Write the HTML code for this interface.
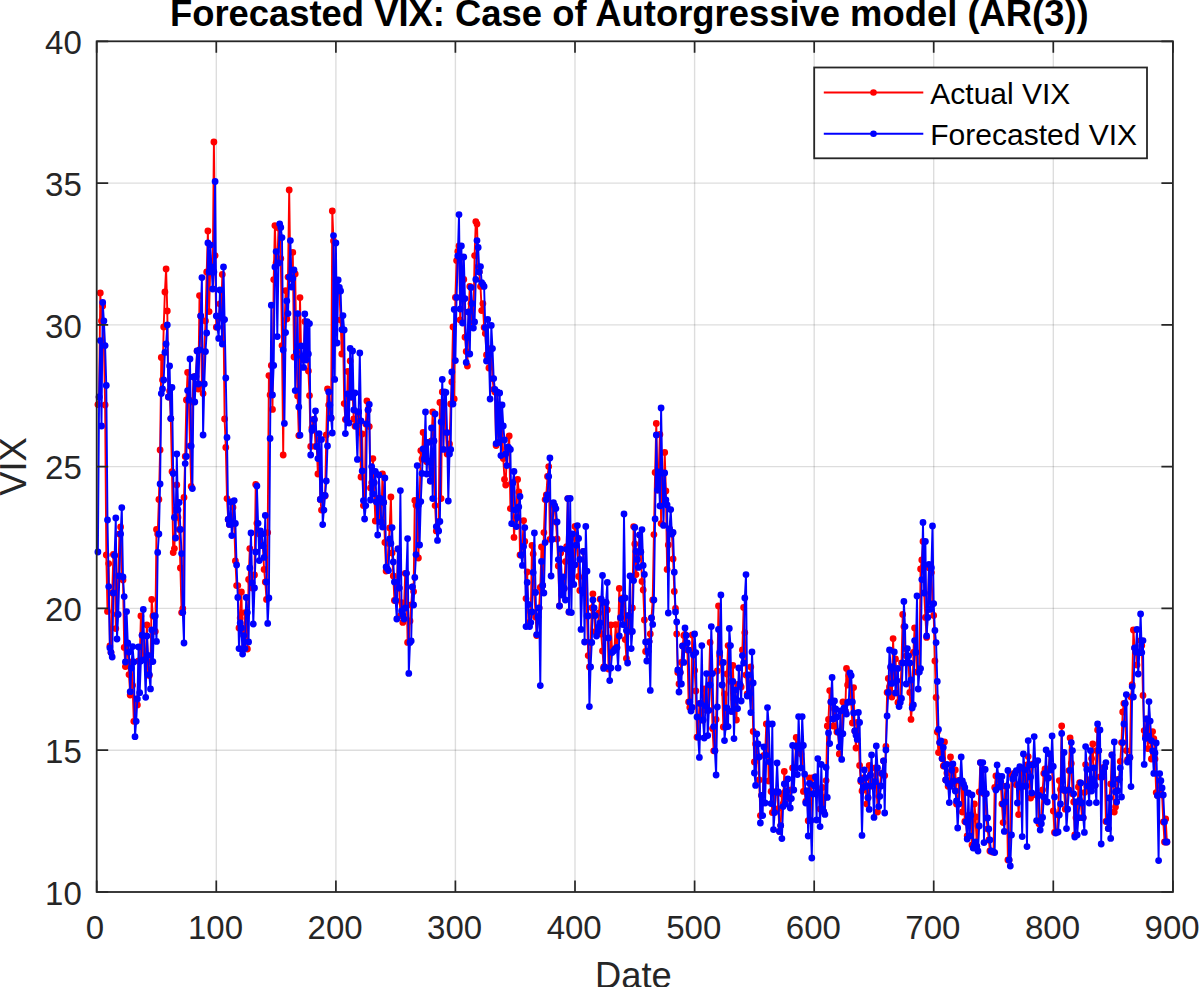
<!DOCTYPE html>
<html><head><meta charset="utf-8"><title>Forecasted VIX</title>
<style>
html,body{margin:0;padding:0;background:#fff;}
svg{display:block;}
text{font-family:"Liberation Sans",sans-serif;}
.tk{font-size:33px;fill:#262626;}
.lg{font-size:30px;fill:#000;}
</style></head>
<body>
<svg width="1200" height="987" viewBox="0 0 1200 987">
<rect x="0" y="0" width="1200" height="987" fill="#fff"/>
<path d="M216.3 41.3V892.0M335.9 41.3V892.0M455.4 41.3V892.0M575.0 41.3V892.0M694.6 41.3V892.0M814.2 41.3V892.0M933.7 41.3V892.0M1053.3 41.3V892.0" stroke="#000" stroke-opacity="0.135" stroke-width="1.4" fill="none"/>
<path d="M96.7 750.2H1172.9M96.7 608.4H1172.9M96.7 466.6H1172.9M96.7 324.9H1172.9M96.7 183.1H1172.9" stroke="#000" stroke-opacity="0.135" stroke-width="1.4" fill="none"/>
<g fill="none" stroke-linejoin="round">
<polyline points="97.9,404.6 99.1,397.0 100.3,293.0 101.5,321.0 102.7,306.0 103.9,345.6 105.1,405.0 106.3,555.0 107.5,611.4 108.7,563.6 109.9,646.0 111.0,652.5 112.2,593.0 113.4,554.4 114.6,555.5 115.8,628.6 117.0,614.4 118.2,576.0 119.4,534.0 120.6,527.0 121.8,577.0 123.0,580.0 124.2,647.4 125.4,666.6 126.6,643.0 127.8,652.0 129.0,674.6 130.2,695.0 131.4,662.0 132.6,685.3 133.8,721.3 135.0,721.3 136.2,699.0 137.4,704.9 138.6,661.0 139.7,661.0 140.9,616.0 142.1,635.2 143.3,659.6 144.5,659.6 145.7,655.3 146.9,625.0 148.1,674.6 149.3,675.6 150.5,661.6 151.7,599.4 152.9,616.0 154.1,616.0 155.3,631.4 156.5,529.4 157.7,534.0 158.9,499.4 160.1,450.0 161.3,357.4 162.5,380.0 163.7,327.0 164.9,292.0 166.1,269.0 167.3,311.0 168.4,397.0 169.6,391.0 170.8,418.6 172.0,471.6 173.2,552.6 174.4,548.6 175.6,510.0 176.8,485.0 178.0,517.4 179.2,529.4 180.4,568.0 181.6,612.6 182.8,608.6 184.0,497.4 185.2,456.4 186.4,400.0 187.6,372.4 188.8,400.0 190.0,446.0 191.2,486.4 192.4,402.0 193.6,377.0 194.8,376.5 195.9,376.5 197.1,351.0 198.3,389.0 199.5,295.6 200.7,316.0 201.9,384.0 203.1,393.6 204.3,351.6 205.5,321.0 206.7,272.0 207.9,231.0 209.1,311.6 210.3,267.0 211.5,272.0 212.7,272.0 213.9,142.0 215.1,255.6 216.3,327.2 217.5,327.2 218.7,318.0 219.9,304.0 221.1,317.0 222.3,274.4 223.5,319.6 224.6,419.0 225.8,447.4 227.0,498.6 228.2,519.4 229.4,524.4 230.6,523.4 231.8,523.4 233.0,507.4 234.2,523.4 235.4,561.0 236.6,585.6 237.8,585.6 239.0,628.0 240.2,618.0 241.4,592.0 242.6,648.6 243.8,635.6 245.0,612.6 246.2,612.6 247.4,649.0 248.6,579.4 249.8,548.6 251.0,583.0 252.2,588.0 253.3,588.0 254.5,575.0 255.7,484.4 256.9,523.3 258.1,531.0 259.3,534.0 260.5,534.0 261.7,545.7 262.9,545.7 264.1,569.4 265.3,582.0 266.5,599.4 267.7,532.6 268.9,375.6 270.1,395.0 271.3,365.4 272.5,409.4 273.7,279.6 274.9,225.6 276.1,263.0 277.3,263.0 278.5,228.0 279.7,227.4 280.8,258.6 282.0,345.6 283.2,455.0 284.4,332.6 285.6,290.6 286.8,319.0 288.0,277.1 289.2,190.0 290.4,278.5 291.6,278.5 292.8,252.4 294.0,357.0 295.2,274.0 296.4,352.1 297.6,396.0 298.8,435.6 300.0,297.6 301.2,356.7 302.4,356.7 303.6,360.0 304.8,321.6 306.0,354.0 307.2,323.6 308.4,371.0 309.5,395.6 310.7,446.4 311.9,428.0 313.1,419.5 314.3,419.5 315.5,446.4 316.7,446.4 317.9,474.0 319.1,439.4 320.3,499.4 321.5,510.1 322.7,510.1 323.9,495.5 325.1,496.0 326.3,435.0 327.5,389.0 328.7,405.0 329.9,418.0 331.1,418.0 332.3,211.0 333.5,241.0 334.7,343.0 335.9,280.0 337.1,287.4 338.2,287.4 339.4,291.0 340.6,320.0 341.8,354.0 343.0,330.0 344.2,403.6 345.4,419.4 346.6,419.4 347.8,371.4 349.0,397.0 350.2,361.0 351.4,397.0 352.6,393.0 353.8,419.0 355.0,426.2 356.2,426.2 357.4,412.0 358.6,412.0 359.8,421.0 361.0,477.0 362.2,434.0 363.4,505.6 364.6,505.6 365.8,424.0 366.9,401.0 368.1,410.0 369.3,426.6 370.5,488.0 371.7,482.7 372.9,458.6 374.1,482.7 375.3,521.0 376.5,502.0 377.7,498.5 378.9,498.5 380.1,522.0 381.3,522.0 382.5,474.0 383.7,502.5 384.9,542.4 386.1,571.0 387.3,568.8 388.5,543.4 389.7,528.0 390.9,497.0 392.1,553.0 393.3,576.0 394.4,600.5 395.6,600.5 396.8,588.0 398.0,549.0 399.2,588.0 400.4,615.6 401.6,602.6 402.8,622.4 404.0,608.0 405.2,573.3 406.4,573.3 407.6,642.4 408.8,642.4 410.0,621.0 411.2,605.0 412.4,587.0 413.6,591.6 414.8,500.4 416.0,505.3 417.2,505.3 418.4,558.0 419.6,501.6 420.8,450.6 422.0,459.0 423.1,432.4 424.3,459.0 425.5,442.4 426.7,461.7 427.9,461.7 429.1,461.7 430.3,481.0 431.5,441.0 432.7,412.0 433.9,441.0 435.1,505.6 436.3,530.9 437.5,529.4 438.7,521.4 439.9,402.4 441.1,498.6 442.3,392.0 443.5,392.4 444.7,392.4 445.9,432.6 447.1,454.0 448.3,454.0 449.5,444.0 450.7,404.0 451.8,382.0 453.0,327.0 454.2,399.0 455.4,297.4 456.6,260.6 457.8,251.4 459.0,246.0 460.2,320.0 461.4,257.0 462.6,298.6 463.8,279.4 465.0,337.2 466.2,351.4 467.4,366.0 468.6,312.0 469.8,286.4 471.0,303.6 472.2,322.0 473.4,322.0 474.6,255.6 475.8,221.6 477.0,224.0 478.2,266.6 479.3,272.0 480.5,286.4 481.7,310.6 482.9,303.6 484.1,327.4 485.3,333.4 486.5,355.0 487.7,355.0 488.9,368.0 490.1,348.6 491.3,348.6 492.5,378.6 493.7,389.4 494.9,392.0 496.1,445.6 497.3,393.0 498.5,442.4 499.7,405.0 500.9,426.0 502.1,426.0 503.3,458.6 504.5,479.4 505.7,485.0 506.9,448.2 508.0,448.2 509.2,436.0 510.4,508.6 511.6,483.0 512.8,483.0 514.0,537.4 515.2,517.4 516.4,517.4 517.6,479.4 518.8,492.0 520.0,555.0 521.2,555.0 522.4,546.5 523.6,520.6 524.8,541.4 526.0,598.6 527.2,572.0 528.4,622.6 529.6,622.6 530.8,612.0 532.0,545.4 533.2,554.0 534.4,592.4 535.6,617.0 536.7,635.6 537.9,617.0 539.1,608.0 540.3,587.4 541.5,547.0 542.7,585.4 543.9,532.6 545.1,499.6 546.3,495.0 547.5,476.5 548.7,466.6 549.9,539.3 551.1,539.3 552.3,505.6 553.5,505.6 554.7,508.6 555.9,522.0 557.1,539.0 558.3,566.0 559.5,606.0 560.7,553.0 561.9,588.5 563.1,588.5 564.2,588.5 565.4,561.6 566.6,546.6 567.8,498.6 569.0,612.0 570.2,534.0 571.4,584.4 572.6,564.8 573.8,564.8 575.0,526.4 576.2,538.4 577.4,538.4 578.6,576.4 579.8,590.4 581.0,590.4 582.2,590.4 583.4,551.4 584.6,578.0 585.8,571.2 587.0,616.0 588.2,655.6 589.4,667.0 590.6,642.4 591.8,607.8 592.9,594.0 594.1,615.6 595.3,631.7 596.5,631.7 597.7,627.3 598.9,613.0 600.1,599.2 601.3,634.0 602.5,651.0 603.7,667.0 604.9,602.4 606.1,602.4 607.3,610.0 608.5,669.0 609.7,668.0 610.9,625.0 612.1,651.3 613.3,650.0 614.5,648.7 615.7,624.6 616.9,647.4 618.1,636.0 619.3,588.4 620.5,617.7 621.6,599.4 622.8,598.0 624.0,598.0 625.2,639.6 626.4,658.4 627.6,615.6 628.8,615.6 630.0,631.4 631.2,631.4 632.4,608.0 633.6,526.6 634.8,544.0 636.0,574.6 637.2,559.4 638.4,552.0 639.6,535.0 640.8,552.0 642.0,581.4 643.2,590.0 644.4,620.0 645.6,651.4 646.8,651.3 648.0,651.3 649.1,641.6 650.3,634.0 651.5,618.0 652.7,600.0 653.9,534.6 655.1,472.4 656.3,423.4 657.5,490.0 658.7,472.0 659.9,434.4 661.1,523.6 662.3,473.0 663.5,500.0 664.7,452.4 665.9,491.0 667.1,569.4 668.3,545.0 669.5,529.0 670.7,532.4 671.9,534.0 673.1,559.0 674.3,591.4 675.5,608.4 676.7,634.0 677.8,672.4 679.0,684.0 680.2,672.4 681.4,662.4 682.6,646.0 683.8,635.5 685.0,634.4 686.2,643.0 687.4,650.0 688.6,702.0 689.8,707.4 691.0,707.4 692.2,635.0 693.4,652.6 694.6,670.4 695.8,691.0 697.0,737.2 698.2,737.2 699.4,703.4 700.6,703.4 701.8,720.0 703.0,720.0 704.2,689.0 705.4,705.8 706.5,710.3 707.7,710.3 708.9,685.0 710.1,642.4 711.3,673.6 712.5,728.6 713.7,750.8 714.9,750.8 716.1,719.4 717.3,671.0 718.5,606.0 719.7,655.4 720.9,662.4 722.1,685.0 723.3,727.0 724.5,694.0 725.7,726.6 726.9,674.0 728.1,645.6 729.3,645.6 730.5,681.4 731.7,711.4 732.9,665.4 734.0,699.3 735.2,699.3 736.4,720.0 737.6,684.4 738.8,684.4 740.0,684.4 741.2,687.0 742.4,650.0 743.6,607.4 744.8,632.6 746.0,675.0 747.2,693.8 748.4,693.8 749.6,693.8 750.8,667.0 752.0,683.0 753.2,731.4 754.4,762.0 755.6,744.0 756.8,744.0 758.0,757.0 759.2,780.0 760.4,815.6 761.6,795.4 762.7,803.0 763.9,755.3 765.1,755.3 766.3,724.0 767.5,724.0 768.7,781.0 769.9,762.0 771.1,791.4 772.3,812.6 773.5,812.6 774.7,792.0 775.9,792.0 777.1,792.0 778.3,808.6 779.5,831.4 780.7,825.6 781.9,794.0 783.1,804.0 784.3,771.4 785.5,791.5 786.7,791.5 787.9,797.6 789.1,798.6 790.3,798.6 791.4,790.0 792.6,768.0 793.8,768.0 795.0,768.0 796.2,737.4 797.4,748.0 798.6,748.0 799.8,748.0 801.0,754.0 802.2,745.4 803.4,791.4 804.6,791.0 805.8,801.4 807.0,791.0 808.2,820.7 809.4,778.0 810.6,820.7 811.8,778.0 813.0,785.5 814.2,785.5 815.4,777.0 816.6,792.6 817.8,792.6 818.9,792.6 820.1,809.0 821.3,809.0 822.5,787.4 823.7,811.7 824.9,797.4 826.1,780.6 827.3,726.0 828.5,719.4 829.7,690.6 830.9,702.0 832.1,701.0 833.3,726.0 834.5,709.0 835.7,717.0 836.9,732.0 838.1,732.0 839.3,754.0 840.5,733.7 841.7,733.7 842.9,702.0 844.1,711.0 845.3,711.0 846.5,668.4 847.6,685.0 848.8,675.6 850.0,675.6 851.2,702.0 852.4,723.0 853.6,687.6 854.8,731.0 856.0,748.0 857.2,722.4 858.4,722.4 859.6,765.4 860.8,781.4 862.0,791.0 863.2,778.0 864.4,778.0 865.6,786.0 866.8,804.0 868.0,797.7 869.2,765.4 870.4,775.0 871.6,786.0 872.8,786.0 874.0,781.7 875.2,768.0 876.3,768.0 877.5,812.0 878.7,796.3 879.9,786.0 881.1,773.5 882.3,773.5 883.5,761.0 884.7,775.6 885.9,746.4 887.1,692.4 888.3,678.4 889.5,687.0 890.7,667.7 891.9,697.0 893.1,638.6 894.3,680.7 895.5,659.0 896.7,680.7 897.9,702.5 899.1,702.5 900.3,698.4 901.5,663.0 902.7,614.4 903.9,626.6 905.0,648.6 906.2,655.8 907.4,655.8 908.6,663.0 909.8,692.4 911.0,719.4 912.2,705.0 913.4,652.4 914.6,628.0 915.8,652.4 917.0,672.0 918.2,672.0 919.4,668.6 920.6,569.0 921.8,560.0 923.0,541.4 924.2,593.0 925.4,617.4 926.6,637.4 927.8,609.4 929.0,567.7 930.2,567.7 931.4,572.6 932.5,603.6 933.7,615.4 934.9,661.0 936.1,697.4 937.3,732.0 938.5,752.6 939.7,742.6 940.9,747.4 942.1,758.6 943.3,766.0 944.5,742.0 945.7,780.0 946.9,773.0 948.1,786.3 949.3,786.3 950.5,757.0 951.7,770.0 952.9,781.0 954.1,784.0 955.3,770.0 956.5,804.0 957.7,804.0 958.9,780.5 960.1,780.5 961.2,781.0 962.4,812.0 963.6,787.4 964.8,821.4 966.0,822.0 967.2,836.0 968.4,815.5 969.6,815.5 970.8,815.5 972.0,845.0 973.2,845.0 974.4,804.0 975.6,817.0 976.8,846.5 978.0,826.0 979.2,792.0 980.4,762.6 981.6,792.0 982.8,769.4 984.0,793.7 985.2,793.7 986.4,818.0 987.6,829.0 988.8,840.0 989.9,851.0 991.1,851.5 992.3,852.1 993.5,852.1 994.7,787.4 995.9,776.0 997.1,776.0 998.3,781.7 999.5,781.7 1000.7,781.7 1001.9,803.9 1003.1,822.6 1004.3,802.0 1005.5,786.2 1006.7,786.2 1007.9,860.0 1009.1,860.0 1010.3,835.0 1011.5,774.6 1012.7,776.2 1013.9,773.4 1015.1,773.4 1016.3,784.8 1017.4,784.8 1018.6,814.6 1019.8,787.0 1021.0,787.0 1022.2,770.0 1023.4,770.0 1024.6,786.0 1025.8,786.0 1027.0,765.0 1028.2,756.6 1029.4,777.0 1030.6,798.0 1031.8,764.8 1033.0,764.0 1034.2,764.0 1035.4,764.0 1036.6,795.3 1037.8,795.3 1039.0,823.7 1040.2,823.7 1041.4,817.4 1042.6,790.0 1043.8,773.5 1045.0,769.0 1046.1,778.0 1047.3,778.0 1048.5,770.0 1049.7,754.0 1050.9,766.5 1052.1,766.5 1053.3,811.0 1054.5,832.5 1055.7,832.5 1056.9,832.0 1058.1,815.0 1059.3,780.6 1060.5,789.4 1061.7,726.0 1062.9,789.4 1064.1,790.5 1065.3,809.2 1066.5,809.2 1067.7,789.8 1068.9,770.6 1070.1,738.0 1071.3,763.4 1072.5,793.8 1073.7,802.0 1074.8,835.0 1076.0,817.7 1077.2,817.7 1078.4,787.0 1079.6,782.6 1080.8,803.0 1082.0,817.7 1083.2,817.7 1084.4,792.6 1085.6,764.6 1086.8,786.2 1088.0,786.2 1089.2,791.0 1090.4,779.5 1091.6,758.6 1092.8,744.0 1094.0,785.3 1095.2,785.3 1096.4,750.6 1097.6,730.0 1098.8,750.6 1100.0,777.0 1101.2,777.0 1102.3,769.0 1103.5,767.4 1104.7,767.4 1105.9,821.4 1107.1,821.4 1108.3,828.6 1109.5,798.0 1110.7,784.0 1111.9,755.0 1113.1,784.0 1114.3,812.0 1115.5,807.0 1116.7,790.7 1117.9,779.3 1119.1,779.3 1120.3,761.4 1121.5,742.6 1122.7,712.0 1123.9,703.4 1125.1,703.4 1126.3,750.6 1127.5,759.7 1128.7,759.7 1129.9,757.4 1131.0,697.0 1132.2,684.6 1133.4,630.0 1134.6,648.0 1135.8,652.0 1137.0,665.0 1138.2,652.6 1139.4,652.6 1140.6,640.6 1141.8,645.6 1143.0,695.4 1144.2,730.6 1145.4,736.0 1146.6,719.0 1147.8,748.6 1149.0,721.1 1150.2,740.6 1151.4,759.0 1152.6,731.6 1153.8,738.6 1155.0,759.0 1156.2,792.6 1157.4,795.4 1158.6,780.7 1159.7,780.7 1160.9,793.4 1162.1,795.0 1163.3,822.0 1164.5,842.0 1165.7,819.0 1166.9,842.0" stroke="#ff0000" stroke-width="1.9"/>
<path d="M97.9 404.6h0M99.1 397.0h0M100.3 293.0h0M101.5 321.0h0M102.7 306.0h0M103.9 345.6h0M105.1 405.0h0M106.3 555.0h0M107.5 611.4h0M108.7 563.6h0M109.9 646.0h0M111.0 652.5h0M112.2 593.0h0M113.4 554.4h0M114.6 555.5h0M115.8 628.6h0M117.0 614.4h0M118.2 576.0h0M119.4 534.0h0M120.6 527.0h0M121.8 577.0h0M123.0 580.0h0M124.2 647.4h0M125.4 666.6h0M126.6 643.0h0M127.8 652.0h0M129.0 674.6h0M130.2 695.0h0M131.4 662.0h0M132.6 685.3h0M133.8 721.3h0M135.0 721.3h0M136.2 699.0h0M137.4 704.9h0M138.6 661.0h0M139.7 661.0h0M140.9 616.0h0M142.1 635.2h0M143.3 659.6h0M144.5 659.6h0M145.7 655.3h0M146.9 625.0h0M148.1 674.6h0M149.3 675.6h0M150.5 661.6h0M151.7 599.4h0M152.9 616.0h0M154.1 616.0h0M155.3 631.4h0M156.5 529.4h0M157.7 534.0h0M158.9 499.4h0M160.1 450.0h0M161.3 357.4h0M162.5 380.0h0M163.7 327.0h0M164.9 292.0h0M166.1 269.0h0M167.3 311.0h0M168.4 397.0h0M169.6 391.0h0M170.8 418.6h0M172.0 471.6h0M173.2 552.6h0M174.4 548.6h0M175.6 510.0h0M176.8 485.0h0M178.0 517.4h0M179.2 529.4h0M180.4 568.0h0M181.6 612.6h0M182.8 608.6h0M184.0 497.4h0M185.2 456.4h0M186.4 400.0h0M187.6 372.4h0M188.8 400.0h0M190.0 446.0h0M191.2 486.4h0M192.4 402.0h0M193.6 377.0h0M194.8 376.5h0M195.9 376.5h0M197.1 351.0h0M198.3 389.0h0M199.5 295.6h0M200.7 316.0h0M201.9 384.0h0M203.1 393.6h0M204.3 351.6h0M205.5 321.0h0M206.7 272.0h0M207.9 231.0h0M209.1 311.6h0M210.3 267.0h0M211.5 272.0h0M212.7 272.0h0M213.9 142.0h0M215.1 255.6h0M216.3 327.2h0M217.5 327.2h0M218.7 318.0h0M219.9 304.0h0M221.1 317.0h0M222.3 274.4h0M223.5 319.6h0M224.6 419.0h0M225.8 447.4h0M227.0 498.6h0M228.2 519.4h0M229.4 524.4h0M230.6 523.4h0M231.8 523.4h0M233.0 507.4h0M234.2 523.4h0M235.4 561.0h0M236.6 585.6h0M237.8 585.6h0M239.0 628.0h0M240.2 618.0h0M241.4 592.0h0M242.6 648.6h0M243.8 635.6h0M245.0 612.6h0M246.2 612.6h0M247.4 649.0h0M248.6 579.4h0M249.8 548.6h0M251.0 583.0h0M252.2 588.0h0M253.3 588.0h0M254.5 575.0h0M255.7 484.4h0M256.9 523.3h0M258.1 531.0h0M259.3 534.0h0M260.5 534.0h0M261.7 545.7h0M262.9 545.7h0M264.1 569.4h0M265.3 582.0h0M266.5 599.4h0M267.7 532.6h0M268.9 375.6h0M270.1 395.0h0M271.3 365.4h0M272.5 409.4h0M273.7 279.6h0M274.9 225.6h0M276.1 263.0h0M277.3 263.0h0M278.5 228.0h0M279.7 227.4h0M280.8 258.6h0M282.0 345.6h0M283.2 455.0h0M284.4 332.6h0M285.6 290.6h0M286.8 319.0h0M288.0 277.1h0M289.2 190.0h0M290.4 278.5h0M291.6 278.5h0M292.8 252.4h0M294.0 357.0h0M295.2 274.0h0M296.4 352.1h0M297.6 396.0h0M298.8 435.6h0M300.0 297.6h0M301.2 356.7h0M302.4 356.7h0M303.6 360.0h0M304.8 321.6h0M306.0 354.0h0M307.2 323.6h0M308.4 371.0h0M309.5 395.6h0M310.7 446.4h0M311.9 428.0h0M313.1 419.5h0M314.3 419.5h0M315.5 446.4h0M316.7 446.4h0M317.9 474.0h0M319.1 439.4h0M320.3 499.4h0M321.5 510.1h0M322.7 510.1h0M323.9 495.5h0M325.1 496.0h0M326.3 435.0h0M327.5 389.0h0M328.7 405.0h0M329.9 418.0h0M331.1 418.0h0M332.3 211.0h0M333.5 241.0h0M334.7 343.0h0M335.9 280.0h0M337.1 287.4h0M338.2 287.4h0M339.4 291.0h0M340.6 320.0h0M341.8 354.0h0M343.0 330.0h0M344.2 403.6h0M345.4 419.4h0M346.6 419.4h0M347.8 371.4h0M349.0 397.0h0M350.2 361.0h0M351.4 397.0h0M352.6 393.0h0M353.8 419.0h0M355.0 426.2h0M356.2 426.2h0M357.4 412.0h0M358.6 412.0h0M359.8 421.0h0M361.0 477.0h0M362.2 434.0h0M363.4 505.6h0M364.6 505.6h0M365.8 424.0h0M366.9 401.0h0M368.1 410.0h0M369.3 426.6h0M370.5 488.0h0M371.7 482.7h0M372.9 458.6h0M374.1 482.7h0M375.3 521.0h0M376.5 502.0h0M377.7 498.5h0M378.9 498.5h0M380.1 522.0h0M381.3 522.0h0M382.5 474.0h0M383.7 502.5h0M384.9 542.4h0M386.1 571.0h0M387.3 568.8h0M388.5 543.4h0M389.7 528.0h0M390.9 497.0h0M392.1 553.0h0M393.3 576.0h0M394.4 600.5h0M395.6 600.5h0M396.8 588.0h0M398.0 549.0h0M399.2 588.0h0M400.4 615.6h0M401.6 602.6h0M402.8 622.4h0M404.0 608.0h0M405.2 573.3h0M406.4 573.3h0M407.6 642.4h0M408.8 642.4h0M410.0 621.0h0M411.2 605.0h0M412.4 587.0h0M413.6 591.6h0M414.8 500.4h0M416.0 505.3h0M417.2 505.3h0M418.4 558.0h0M419.6 501.6h0M420.8 450.6h0M422.0 459.0h0M423.1 432.4h0M424.3 459.0h0M425.5 442.4h0M426.7 461.7h0M427.9 461.7h0M429.1 461.7h0M430.3 481.0h0M431.5 441.0h0M432.7 412.0h0M433.9 441.0h0M435.1 505.6h0M436.3 530.9h0M437.5 529.4h0M438.7 521.4h0M439.9 402.4h0M441.1 498.6h0M442.3 392.0h0M443.5 392.4h0M444.7 392.4h0M445.9 432.6h0M447.1 454.0h0M448.3 454.0h0M449.5 444.0h0M450.7 404.0h0M451.8 382.0h0M453.0 327.0h0M454.2 399.0h0M455.4 297.4h0M456.6 260.6h0M457.8 251.4h0M459.0 246.0h0M460.2 320.0h0M461.4 257.0h0M462.6 298.6h0M463.8 279.4h0M465.0 337.2h0M466.2 351.4h0M467.4 366.0h0M468.6 312.0h0M469.8 286.4h0M471.0 303.6h0M472.2 322.0h0M473.4 322.0h0M474.6 255.6h0M475.8 221.6h0M477.0 224.0h0M478.2 266.6h0M479.3 272.0h0M480.5 286.4h0M481.7 310.6h0M482.9 303.6h0M484.1 327.4h0M485.3 333.4h0M486.5 355.0h0M487.7 355.0h0M488.9 368.0h0M490.1 348.6h0M491.3 348.6h0M492.5 378.6h0M493.7 389.4h0M494.9 392.0h0M496.1 445.6h0M497.3 393.0h0M498.5 442.4h0M499.7 405.0h0M500.9 426.0h0M502.1 426.0h0M503.3 458.6h0M504.5 479.4h0M505.7 485.0h0M506.9 448.2h0M508.0 448.2h0M509.2 436.0h0M510.4 508.6h0M511.6 483.0h0M512.8 483.0h0M514.0 537.4h0M515.2 517.4h0M516.4 517.4h0M517.6 479.4h0M518.8 492.0h0M520.0 555.0h0M521.2 555.0h0M522.4 546.5h0M523.6 520.6h0M524.8 541.4h0M526.0 598.6h0M527.2 572.0h0M528.4 622.6h0M529.6 622.6h0M530.8 612.0h0M532.0 545.4h0M533.2 554.0h0M534.4 592.4h0M535.6 617.0h0M536.7 635.6h0M537.9 617.0h0M539.1 608.0h0M540.3 587.4h0M541.5 547.0h0M542.7 585.4h0M543.9 532.6h0M545.1 499.6h0M546.3 495.0h0M547.5 476.5h0M548.7 466.6h0M549.9 539.3h0M551.1 539.3h0M552.3 505.6h0M553.5 505.6h0M554.7 508.6h0M555.9 522.0h0M557.1 539.0h0M558.3 566.0h0M559.5 606.0h0M560.7 553.0h0M561.9 588.5h0M563.1 588.5h0M564.2 588.5h0M565.4 561.6h0M566.6 546.6h0M567.8 498.6h0M569.0 612.0h0M570.2 534.0h0M571.4 584.4h0M572.6 564.8h0M573.8 564.8h0M575.0 526.4h0M576.2 538.4h0M577.4 538.4h0M578.6 576.4h0M579.8 590.4h0M581.0 590.4h0M582.2 590.4h0M583.4 551.4h0M584.6 578.0h0M585.8 571.2h0M587.0 616.0h0M588.2 655.6h0M589.4 667.0h0M590.6 642.4h0M591.8 607.8h0M592.9 594.0h0M594.1 615.6h0M595.3 631.7h0M596.5 631.7h0M597.7 627.3h0M598.9 613.0h0M600.1 599.2h0M601.3 634.0h0M602.5 651.0h0M603.7 667.0h0M604.9 602.4h0M606.1 602.4h0M607.3 610.0h0M608.5 669.0h0M609.7 668.0h0M610.9 625.0h0M612.1 651.3h0M613.3 650.0h0M614.5 648.7h0M615.7 624.6h0M616.9 647.4h0M618.1 636.0h0M619.3 588.4h0M620.5 617.7h0M621.6 599.4h0M622.8 598.0h0M624.0 598.0h0M625.2 639.6h0M626.4 658.4h0M627.6 615.6h0M628.8 615.6h0M630.0 631.4h0M631.2 631.4h0M632.4 608.0h0M633.6 526.6h0M634.8 544.0h0M636.0 574.6h0M637.2 559.4h0M638.4 552.0h0M639.6 535.0h0M640.8 552.0h0M642.0 581.4h0M643.2 590.0h0M644.4 620.0h0M645.6 651.4h0M646.8 651.3h0M648.0 651.3h0M649.1 641.6h0M650.3 634.0h0M651.5 618.0h0M652.7 600.0h0M653.9 534.6h0M655.1 472.4h0M656.3 423.4h0M657.5 490.0h0M658.7 472.0h0M659.9 434.4h0M661.1 523.6h0M662.3 473.0h0M663.5 500.0h0M664.7 452.4h0M665.9 491.0h0M667.1 569.4h0M668.3 545.0h0M669.5 529.0h0M670.7 532.4h0M671.9 534.0h0M673.1 559.0h0M674.3 591.4h0M675.5 608.4h0M676.7 634.0h0M677.8 672.4h0M679.0 684.0h0M680.2 672.4h0M681.4 662.4h0M682.6 646.0h0M683.8 635.5h0M685.0 634.4h0M686.2 643.0h0M687.4 650.0h0M688.6 702.0h0M689.8 707.4h0M691.0 707.4h0M692.2 635.0h0M693.4 652.6h0M694.6 670.4h0M695.8 691.0h0M697.0 737.2h0M698.2 737.2h0M699.4 703.4h0M700.6 703.4h0M701.8 720.0h0M703.0 720.0h0M704.2 689.0h0M705.4 705.8h0M706.5 710.3h0M707.7 710.3h0M708.9 685.0h0M710.1 642.4h0M711.3 673.6h0M712.5 728.6h0M713.7 750.8h0M714.9 750.8h0M716.1 719.4h0M717.3 671.0h0M718.5 606.0h0M719.7 655.4h0M720.9 662.4h0M722.1 685.0h0M723.3 727.0h0M724.5 694.0h0M725.7 726.6h0M726.9 674.0h0M728.1 645.6h0M729.3 645.6h0M730.5 681.4h0M731.7 711.4h0M732.9 665.4h0M734.0 699.3h0M735.2 699.3h0M736.4 720.0h0M737.6 684.4h0M738.8 684.4h0M740.0 684.4h0M741.2 687.0h0M742.4 650.0h0M743.6 607.4h0M744.8 632.6h0M746.0 675.0h0M747.2 693.8h0M748.4 693.8h0M749.6 693.8h0M750.8 667.0h0M752.0 683.0h0M753.2 731.4h0M754.4 762.0h0M755.6 744.0h0M756.8 744.0h0M758.0 757.0h0M759.2 780.0h0M760.4 815.6h0M761.6 795.4h0M762.7 803.0h0M763.9 755.3h0M765.1 755.3h0M766.3 724.0h0M767.5 724.0h0M768.7 781.0h0M769.9 762.0h0M771.1 791.4h0M772.3 812.6h0M773.5 812.6h0M774.7 792.0h0M775.9 792.0h0M777.1 792.0h0M778.3 808.6h0M779.5 831.4h0M780.7 825.6h0M781.9 794.0h0M783.1 804.0h0M784.3 771.4h0M785.5 791.5h0M786.7 791.5h0M787.9 797.6h0M789.1 798.6h0M790.3 798.6h0M791.4 790.0h0M792.6 768.0h0M793.8 768.0h0M795.0 768.0h0M796.2 737.4h0M797.4 748.0h0M798.6 748.0h0M799.8 748.0h0M801.0 754.0h0M802.2 745.4h0M803.4 791.4h0M804.6 791.0h0M805.8 801.4h0M807.0 791.0h0M808.2 820.7h0M809.4 778.0h0M810.6 820.7h0M811.8 778.0h0M813.0 785.5h0M814.2 785.5h0M815.4 777.0h0M816.6 792.6h0M817.8 792.6h0M818.9 792.6h0M820.1 809.0h0M821.3 809.0h0M822.5 787.4h0M823.7 811.7h0M824.9 797.4h0M826.1 780.6h0M827.3 726.0h0M828.5 719.4h0M829.7 690.6h0M830.9 702.0h0M832.1 701.0h0M833.3 726.0h0M834.5 709.0h0M835.7 717.0h0M836.9 732.0h0M838.1 732.0h0M839.3 754.0h0M840.5 733.7h0M841.7 733.7h0M842.9 702.0h0M844.1 711.0h0M845.3 711.0h0M846.5 668.4h0M847.6 685.0h0M848.8 675.6h0M850.0 675.6h0M851.2 702.0h0M852.4 723.0h0M853.6 687.6h0M854.8 731.0h0M856.0 748.0h0M857.2 722.4h0M858.4 722.4h0M859.6 765.4h0M860.8 781.4h0M862.0 791.0h0M863.2 778.0h0M864.4 778.0h0M865.6 786.0h0M866.8 804.0h0M868.0 797.7h0M869.2 765.4h0M870.4 775.0h0M871.6 786.0h0M872.8 786.0h0M874.0 781.7h0M875.2 768.0h0M876.3 768.0h0M877.5 812.0h0M878.7 796.3h0M879.9 786.0h0M881.1 773.5h0M882.3 773.5h0M883.5 761.0h0M884.7 775.6h0M885.9 746.4h0M887.1 692.4h0M888.3 678.4h0M889.5 687.0h0M890.7 667.7h0M891.9 697.0h0M893.1 638.6h0M894.3 680.7h0M895.5 659.0h0M896.7 680.7h0M897.9 702.5h0M899.1 702.5h0M900.3 698.4h0M901.5 663.0h0M902.7 614.4h0M903.9 626.6h0M905.0 648.6h0M906.2 655.8h0M907.4 655.8h0M908.6 663.0h0M909.8 692.4h0M911.0 719.4h0M912.2 705.0h0M913.4 652.4h0M914.6 628.0h0M915.8 652.4h0M917.0 672.0h0M918.2 672.0h0M919.4 668.6h0M920.6 569.0h0M921.8 560.0h0M923.0 541.4h0M924.2 593.0h0M925.4 617.4h0M926.6 637.4h0M927.8 609.4h0M929.0 567.7h0M930.2 567.7h0M931.4 572.6h0M932.5 603.6h0M933.7 615.4h0M934.9 661.0h0M936.1 697.4h0M937.3 732.0h0M938.5 752.6h0M939.7 742.6h0M940.9 747.4h0M942.1 758.6h0M943.3 766.0h0M944.5 742.0h0M945.7 780.0h0M946.9 773.0h0M948.1 786.3h0M949.3 786.3h0M950.5 757.0h0M951.7 770.0h0M952.9 781.0h0M954.1 784.0h0M955.3 770.0h0M956.5 804.0h0M957.7 804.0h0M958.9 780.5h0M960.1 780.5h0M961.2 781.0h0M962.4 812.0h0M963.6 787.4h0M964.8 821.4h0M966.0 822.0h0M967.2 836.0h0M968.4 815.5h0M969.6 815.5h0M970.8 815.5h0M972.0 845.0h0M973.2 845.0h0M974.4 804.0h0M975.6 817.0h0M976.8 846.5h0M978.0 826.0h0M979.2 792.0h0M980.4 762.6h0M981.6 792.0h0M982.8 769.4h0M984.0 793.7h0M985.2 793.7h0M986.4 818.0h0M987.6 829.0h0M988.8 840.0h0M989.9 851.0h0M991.1 851.5h0M992.3 852.1h0M993.5 852.1h0M994.7 787.4h0M995.9 776.0h0M997.1 776.0h0M998.3 781.7h0M999.5 781.7h0M1000.7 781.7h0M1001.9 803.9h0M1003.1 822.6h0M1004.3 802.0h0M1005.5 786.2h0M1006.7 786.2h0M1007.9 860.0h0M1009.1 860.0h0M1010.3 835.0h0M1011.5 774.6h0M1012.7 776.2h0M1013.9 773.4h0M1015.1 773.4h0M1016.3 784.8h0M1017.4 784.8h0M1018.6 814.6h0M1019.8 787.0h0M1021.0 787.0h0M1022.2 770.0h0M1023.4 770.0h0M1024.6 786.0h0M1025.8 786.0h0M1027.0 765.0h0M1028.2 756.6h0M1029.4 777.0h0M1030.6 798.0h0M1031.8 764.8h0M1033.0 764.0h0M1034.2 764.0h0M1035.4 764.0h0M1036.6 795.3h0M1037.8 795.3h0M1039.0 823.7h0M1040.2 823.7h0M1041.4 817.4h0M1042.6 790.0h0M1043.8 773.5h0M1045.0 769.0h0M1046.1 778.0h0M1047.3 778.0h0M1048.5 770.0h0M1049.7 754.0h0M1050.9 766.5h0M1052.1 766.5h0M1053.3 811.0h0M1054.5 832.5h0M1055.7 832.5h0M1056.9 832.0h0M1058.1 815.0h0M1059.3 780.6h0M1060.5 789.4h0M1061.7 726.0h0M1062.9 789.4h0M1064.1 790.5h0M1065.3 809.2h0M1066.5 809.2h0M1067.7 789.8h0M1068.9 770.6h0M1070.1 738.0h0M1071.3 763.4h0M1072.5 793.8h0M1073.7 802.0h0M1074.8 835.0h0M1076.0 817.7h0M1077.2 817.7h0M1078.4 787.0h0M1079.6 782.6h0M1080.8 803.0h0M1082.0 817.7h0M1083.2 817.7h0M1084.4 792.6h0M1085.6 764.6h0M1086.8 786.2h0M1088.0 786.2h0M1089.2 791.0h0M1090.4 779.5h0M1091.6 758.6h0M1092.8 744.0h0M1094.0 785.3h0M1095.2 785.3h0M1096.4 750.6h0M1097.6 730.0h0M1098.8 750.6h0M1100.0 777.0h0M1101.2 777.0h0M1102.3 769.0h0M1103.5 767.4h0M1104.7 767.4h0M1105.9 821.4h0M1107.1 821.4h0M1108.3 828.6h0M1109.5 798.0h0M1110.7 784.0h0M1111.9 755.0h0M1113.1 784.0h0M1114.3 812.0h0M1115.5 807.0h0M1116.7 790.7h0M1117.9 779.3h0M1119.1 779.3h0M1120.3 761.4h0M1121.5 742.6h0M1122.7 712.0h0M1123.9 703.4h0M1125.1 703.4h0M1126.3 750.6h0M1127.5 759.7h0M1128.7 759.7h0M1129.9 757.4h0M1131.0 697.0h0M1132.2 684.6h0M1133.4 630.0h0M1134.6 648.0h0M1135.8 652.0h0M1137.0 665.0h0M1138.2 652.6h0M1139.4 652.6h0M1140.6 640.6h0M1141.8 645.6h0M1143.0 695.4h0M1144.2 730.6h0M1145.4 736.0h0M1146.6 719.0h0M1147.8 748.6h0M1149.0 721.1h0M1150.2 740.6h0M1151.4 759.0h0M1152.6 731.6h0M1153.8 738.6h0M1155.0 759.0h0M1156.2 792.6h0M1157.4 795.4h0M1158.6 780.7h0M1159.7 780.7h0M1160.9 793.4h0M1162.1 795.0h0M1163.3 822.0h0M1164.5 842.0h0M1165.7 819.0h0M1166.9 842.0h0" stroke="#ff0000" stroke-width="6.8" stroke-linecap="round"/>
<polyline points="97.9,552.0 99.1,397.0 100.3,340.6 101.5,426.0 102.7,302.4 103.9,321.0 105.1,345.6 106.3,385.4 107.5,520.0 108.7,586.6 109.9,648.0 111.0,652.5 112.2,657.0 113.4,593.0 114.6,555.5 115.8,518.0 117.0,639.0 118.2,614.4 119.4,576.0 120.6,534.0 121.8,507.6 123.0,577.0 124.2,596.6 125.4,662.0 126.6,611.6 127.8,643.0 129.0,652.0 130.2,691.7 131.4,668.0 132.6,646.6 133.8,662.0 135.0,736.7 136.2,721.3 137.4,699.0 138.6,647.0 139.7,692.7 140.9,661.0 142.1,635.2 143.3,609.4 144.5,659.6 145.7,697.3 146.9,636.0 148.1,655.3 149.3,674.6 150.5,688.9 151.7,630.0 152.9,661.6 154.1,616.0 155.3,616.0 156.5,641.4 157.7,552.4 158.9,534.0 160.1,484.0 161.3,393.6 162.5,389.0 163.7,380.0 164.9,352.4 166.1,344.0 167.3,325.0 168.4,397.0 169.6,366.0 170.8,418.6 172.0,387.4 173.2,473.6 174.4,517.4 175.6,538.0 176.8,454.0 178.0,510.0 179.2,502.4 180.4,529.4 181.6,553.6 182.8,612.6 184.0,643.0 185.2,463.6 186.4,456.4 187.6,390.6 188.8,400.0 190.0,359.0 191.2,446.0 192.4,488.6 193.6,377.0 194.8,402.0 195.9,376.5 197.1,351.0 198.3,384.0 199.5,350.0 200.7,316.0 201.9,277.6 203.1,435.0 204.3,384.0 205.5,351.6 206.7,333.0 207.9,243.0 209.1,272.0 210.3,245.0 211.5,267.0 212.7,289.0 213.9,272.0 215.1,181.4 216.3,316.0 217.5,327.2 218.7,338.4 219.9,290.0 221.1,317.0 222.3,344.0 223.5,267.0 224.6,319.6 225.8,378.0 227.0,437.4 228.2,519.4 229.4,524.4 230.6,502.0 231.8,535.6 233.0,523.4 234.2,500.6 235.4,523.4 236.6,565.0 237.8,597.4 239.0,648.6 240.2,623.0 241.4,628.0 242.6,654.0 243.8,635.6 245.0,648.6 246.2,597.4 247.4,612.6 248.6,642.0 249.8,568.0 251.0,533.0 252.2,583.0 253.3,624.0 254.5,588.0 255.7,552.0 256.9,486.0 258.1,523.3 259.3,560.6 260.5,531.0 261.7,534.0 262.9,545.7 264.1,557.4 265.3,515.4 266.5,582.0 267.7,623.4 268.9,598.0 270.1,438.4 271.3,305.2 272.5,395.0 273.7,365.4 274.9,267.0 276.1,251.6 277.3,336.6 278.5,263.0 279.7,224.0 280.8,227.4 282.0,237.6 283.2,350.0 284.4,423.4 285.6,332.6 286.8,301.0 288.0,313.6 289.2,277.1 290.4,240.6 291.6,287.0 292.8,278.5 294.0,270.0 295.2,390.6 296.4,352.1 297.6,313.6 298.8,407.0 300.0,435.2 301.2,346.0 302.4,356.7 303.6,367.4 304.8,314.0 306.0,360.0 307.2,321.6 308.4,354.0 309.5,323.6 310.7,455.0 311.9,430.6 313.1,428.0 314.3,419.5 315.5,411.0 316.7,446.4 317.9,458.6 319.1,433.6 320.3,499.4 321.5,439.4 322.7,524.6 323.9,510.1 325.1,495.5 326.3,481.0 327.5,446.0 328.7,392.0 329.9,405.0 331.1,418.0 332.3,433.0 333.5,235.6 334.7,379.4 335.9,243.0 337.1,343.0 338.2,280.0 339.4,287.4 340.6,291.0 341.8,329.6 343.0,315.6 344.2,330.0 345.4,433.6 346.6,419.4 347.8,394.0 349.0,423.0 350.2,348.4 351.4,397.0 352.6,351.0 353.8,410.0 355.0,393.0 356.2,426.2 357.4,459.4 358.6,412.0 359.8,353.0 361.0,421.0 362.2,471.0 363.4,500.6 364.6,519.0 365.8,505.6 366.9,424.0 368.1,410.0 369.3,404.4 370.5,500.0 371.7,466.6 372.9,494.0 374.1,482.7 375.3,471.4 376.5,502.0 377.7,535.0 378.9,475.0 380.1,498.5 381.3,522.0 382.5,527.0 383.7,502.5 384.9,478.0 386.1,567.0 387.3,568.8 388.5,570.6 389.7,539.0 390.9,543.4 392.1,527.6 393.3,562.0 394.4,582.0 395.6,600.5 396.8,619.0 398.0,549.0 399.2,588.0 400.4,490.6 401.6,611.0 402.8,615.0 404.0,619.0 405.2,608.0 406.4,573.3 407.6,538.6 408.8,673.4 410.0,642.4 411.2,641.0 412.4,587.0 413.6,605.0 414.8,577.4 416.0,554.6 417.2,465.6 418.4,505.3 419.6,545.0 420.8,501.6 422.0,473.4 423.1,449.0 424.3,459.0 425.5,412.0 426.7,474.0 427.9,442.4 429.1,461.7 430.3,481.0 431.5,428.0 432.7,498.6 433.9,441.0 435.1,414.0 436.3,526.6 437.5,540.4 438.7,530.9 439.9,521.4 441.1,422.0 442.3,379.4 443.5,449.4 444.7,392.0 445.9,392.4 447.1,432.6 448.3,501.0 449.5,454.0 450.7,449.4 451.8,372.0 453.0,404.0 454.2,309.4 455.4,360.6 456.6,297.4 457.8,256.0 459.0,214.6 460.2,309.0 461.4,246.0 462.6,323.0 463.8,257.0 465.0,298.6 466.2,362.4 467.4,337.2 468.6,312.0 469.8,354.0 471.0,287.4 472.2,303.6 473.4,328.0 474.6,322.0 475.8,279.4 477.0,240.6 478.2,247.4 479.3,272.0 480.5,266.6 481.7,282.6 482.9,284.5 484.1,286.4 485.3,327.4 486.5,361.0 487.7,319.4 488.9,355.0 490.1,399.0 491.3,325.4 492.5,348.6 493.7,378.6 494.9,389.4 496.1,443.6 497.3,392.0 498.5,442.4 499.7,393.0 500.9,455.6 502.1,405.0 503.3,426.0 504.5,440.0 505.7,454.0 506.9,465.6 508.0,447.0 509.2,448.2 510.4,449.4 511.6,523.6 512.8,483.0 514.0,471.4 515.2,510.0 516.4,526.6 517.6,517.4 518.8,506.9 520.0,496.4 521.2,555.0 522.4,565.4 523.6,546.5 524.8,527.6 526.0,626.6 527.2,582.4 528.4,604.5 529.6,626.6 530.8,622.6 532.0,612.0 533.2,572.4 534.4,533.0 535.6,592.4 536.7,634.6 537.9,617.0 539.1,608.0 540.3,685.6 541.5,561.4 542.7,585.4 543.9,593.0 545.1,542.6 546.3,499.6 547.5,495.0 548.7,476.5 549.9,458.0 551.1,576.0 552.3,539.3 553.5,502.6 554.7,505.6 555.9,508.6 557.1,522.0 558.3,559.6 559.5,606.0 560.7,549.0 561.9,595.0 563.1,577.0 564.2,588.5 565.4,600.0 566.6,549.3 567.8,498.6 569.0,612.0 570.2,498.4 571.4,612.6 572.6,534.0 573.8,584.4 575.0,564.8 576.2,545.2 577.4,525.6 578.6,538.4 579.8,559.4 581.0,629.4 582.2,590.4 583.4,551.4 584.6,642.0 585.8,526.4 587.0,571.2 588.2,616.0 589.4,706.6 590.6,667.0 591.8,642.4 592.9,600.0 594.1,607.8 595.3,615.6 596.5,636.0 597.7,631.7 598.9,627.3 600.1,623.0 601.3,599.2 602.5,575.4 603.7,668.4 604.9,667.0 606.1,602.4 607.3,582.4 608.5,638.0 609.7,680.6 610.9,668.0 612.1,652.6 613.3,651.3 614.5,650.0 615.7,648.7 616.9,647.4 618.1,668.0 619.3,636.0 620.5,617.7 621.6,599.4 622.8,624.6 624.0,514.0 625.2,598.0 626.4,630.5 627.6,663.0 628.8,615.6 630.0,576.0 631.2,648.6 632.4,631.4 633.6,580.6 634.8,527.4 636.0,551.4 637.2,559.4 638.4,567.4 639.6,535.0 640.8,552.0 642.0,529.6 643.2,565.4 644.4,574.4 645.6,642.0 646.8,661.0 648.0,651.3 649.1,641.6 650.3,690.4 651.5,618.0 652.7,624.4 653.9,600.0 655.1,519.0 656.3,435.0 657.5,490.0 658.7,472.0 659.9,506.0 661.1,408.0 662.3,473.0 663.5,525.4 664.7,473.0 665.9,500.0 667.1,505.0 668.3,613.0 669.5,529.0 670.7,509.6 671.9,534.0 673.1,532.4 674.3,572.2 675.5,612.0 676.7,622.0 677.8,670.0 679.0,692.0 680.2,672.4 681.4,684.0 682.6,646.0 683.8,662.4 685.0,628.0 686.2,635.5 687.4,643.0 688.6,650.0 689.8,702.0 691.0,711.0 692.2,707.4 693.4,655.0 694.6,634.0 695.8,652.6 697.0,717.0 698.2,737.2 699.4,757.4 700.6,703.4 701.8,645.6 703.0,720.0 704.2,738.0 705.4,705.8 706.5,673.6 707.7,735.6 708.9,710.3 710.1,685.0 711.3,626.6 712.5,673.6 713.7,726.6 714.9,750.8 716.1,775.0 717.3,707.0 718.5,629.4 719.7,652.4 720.9,595.0 722.1,685.0 723.3,662.4 724.5,740.6 725.7,727.0 726.9,708.0 728.1,726.6 729.3,628.4 730.5,645.6 731.7,711.4 732.9,681.4 734.0,738.6 735.2,690.0 736.4,699.3 737.6,708.6 738.8,668.0 740.0,684.4 741.2,701.0 742.4,655.6 743.6,663.0 744.8,598.0 746.0,574.6 747.2,696.0 748.4,675.0 749.6,693.8 750.8,712.6 752.0,652.0 753.2,683.0 754.4,773.0 755.6,785.4 756.8,734.0 758.0,744.0 759.2,757.0 760.4,823.0 761.6,795.4 762.7,815.6 763.9,747.0 765.1,803.0 766.3,755.3 767.5,707.6 768.7,724.0 769.9,762.0 771.1,803.6 772.3,724.0 773.5,829.6 774.7,812.6 775.9,792.0 777.1,763.0 778.3,792.0 779.5,831.4 780.7,825.6 781.9,838.6 783.1,806.6 784.3,784.0 785.5,804.0 786.7,791.5 787.9,779.0 789.1,797.6 790.3,808.0 791.4,798.6 792.6,745.4 793.8,790.0 795.0,768.0 796.2,746.0 797.4,774.6 798.6,716.6 799.8,748.0 801.0,768.0 802.2,716.6 803.4,745.4 804.6,774.2 805.8,803.0 807.0,791.0 808.2,836.0 809.4,783.4 810.6,820.7 811.8,858.0 813.0,794.0 814.2,785.5 815.4,777.0 816.6,820.0 817.8,758.6 818.9,792.6 820.1,826.6 821.3,764.4 822.5,809.0 823.7,811.7 824.9,814.4 826.1,767.4 827.3,797.4 828.5,733.0 829.7,743.6 830.9,702.0 832.1,677.4 833.3,719.0 834.5,701.0 835.7,709.0 836.9,717.0 838.1,732.0 839.3,747.0 840.5,711.0 841.7,759.4 842.9,733.7 844.1,708.0 845.3,711.0 846.5,714.0 847.6,702.4 848.8,702.0 850.0,673.0 851.2,675.6 852.4,702.0 853.6,713.0 854.8,731.0 856.0,735.2 857.2,739.4 858.4,712.4 859.6,722.4 860.8,780.0 862.0,835.4 863.2,787.4 864.4,770.0 865.6,778.0 866.8,786.0 868.0,797.7 869.2,809.4 870.4,775.0 871.6,755.0 872.8,786.0 874.0,817.4 875.2,781.7 876.3,746.0 877.5,768.0 878.7,806.6 879.9,796.3 881.1,786.0 882.3,773.5 883.5,761.0 884.7,813.0 885.9,750.0 887.1,716.0 888.3,692.4 889.5,650.0 890.7,666.7 891.9,683.4 893.1,667.7 894.3,652.0 895.5,693.0 896.7,680.7 897.9,668.4 899.1,706.6 900.3,702.5 901.5,698.4 902.7,663.0 903.9,601.4 905.0,626.6 906.2,684.0 907.4,648.6 908.6,655.8 909.8,663.0 911.0,680.0 912.2,708.0 913.4,705.0 914.6,640.6 915.8,652.4 917.0,596.0 918.2,689.0 919.4,672.0 920.6,668.6 921.8,579.6 923.0,522.4 924.2,593.0 925.4,541.4 926.6,636.0 927.8,617.4 929.0,564.4 930.2,609.4 931.4,567.7 932.5,526.0 933.7,603.6 934.9,630.4 936.1,642.6 937.3,681.4 938.5,729.4 939.7,742.6 940.9,741.0 942.1,758.6 943.3,747.4 944.5,766.0 945.7,780.0 946.9,764.4 948.1,783.5 949.3,802.6 950.5,786.3 951.7,770.0 952.9,764.0 954.1,781.0 955.3,791.0 956.5,801.0 957.7,828.0 958.9,804.0 960.1,780.5 961.2,757.0 962.4,781.0 963.6,784.2 964.8,787.4 966.0,822.0 967.2,839.0 968.4,793.0 969.6,836.0 970.8,815.5 972.0,795.0 973.2,848.0 974.4,845.0 975.6,842.0 976.8,846.5 978.0,851.0 979.2,826.0 980.4,762.6 981.6,792.0 982.8,762.6 984.0,842.6 985.2,769.4 986.4,793.7 987.6,818.0 988.8,829.0 989.9,840.0 991.1,851.0 992.3,851.5 993.5,852.1 994.7,852.6 995.9,790.0 997.1,765.0 998.3,776.0 999.5,787.0 1000.7,781.7 1001.9,776.4 1003.1,803.9 1004.3,831.4 1005.5,802.0 1006.7,786.2 1007.9,770.4 1009.1,860.0 1010.3,866.0 1011.5,835.0 1012.7,779.0 1013.9,776.2 1015.1,773.4 1016.3,770.6 1017.4,803.0 1018.6,784.8 1019.8,766.6 1021.0,787.0 1022.2,836.6 1023.4,754.0 1024.6,770.0 1025.8,786.0 1027.0,846.6 1028.2,740.6 1029.4,765.0 1030.6,777.0 1031.8,793.0 1033.0,764.8 1034.2,736.6 1035.4,764.0 1036.6,820.6 1037.8,760.6 1039.0,795.3 1040.2,830.0 1041.4,823.7 1042.6,817.4 1043.8,797.0 1045.0,773.5 1046.1,750.0 1047.3,802.0 1048.5,778.0 1049.7,754.0 1050.9,770.0 1052.1,736.0 1053.3,766.5 1054.5,797.0 1055.7,833.0 1056.9,832.5 1058.1,832.0 1059.3,815.0 1060.5,804.0 1061.7,733.4 1062.9,789.4 1064.1,752.4 1065.3,790.5 1066.5,828.6 1067.7,809.2 1068.9,789.8 1070.1,770.4 1071.3,742.6 1072.5,750.6 1073.7,793.8 1074.8,837.0 1076.0,802.0 1077.2,835.0 1078.4,817.7 1079.6,800.3 1080.8,783.0 1082.0,803.0 1083.2,817.7 1084.4,832.4 1085.6,746.6 1086.8,769.4 1088.0,786.2 1089.2,803.0 1090.4,750.6 1091.6,791.0 1092.8,779.5 1094.0,768.0 1095.2,785.3 1096.4,802.6 1097.6,724.0 1098.8,750.6 1100.0,730.0 1101.2,844.0 1102.3,777.0 1103.5,772.2 1104.7,767.4 1105.9,762.6 1107.1,821.4 1108.3,828.6 1109.5,798.0 1110.7,838.4 1111.9,755.0 1113.1,784.0 1114.3,742.0 1115.5,792.0 1116.7,802.0 1117.9,790.7 1119.1,779.3 1120.3,768.0 1121.5,797.0 1122.7,742.6 1123.9,724.0 1125.1,703.4 1126.3,694.6 1127.5,762.0 1128.7,759.7 1129.9,757.4 1131.0,786.6 1132.2,686.6 1133.4,697.0 1134.6,648.0 1135.8,652.0 1137.0,629.4 1138.2,674.0 1139.4,652.6 1140.6,614.0 1141.8,652.6 1143.0,640.6 1144.2,764.4 1145.4,738.6 1146.6,719.0 1147.8,736.0 1149.0,701.6 1150.2,721.1 1151.4,740.6 1152.6,751.0 1153.8,773.4 1155.0,753.0 1156.2,743.0 1157.4,795.4 1158.6,860.6 1159.7,773.6 1160.9,780.7 1162.1,787.9 1163.3,795.0 1164.5,822.0 1165.7,842.0 1166.9,842.0" stroke="#0000ff" stroke-width="1.9"/>
<path d="M97.9 552.0h0M99.1 397.0h0M100.3 340.6h0M101.5 426.0h0M102.7 302.4h0M103.9 321.0h0M105.1 345.6h0M106.3 385.4h0M107.5 520.0h0M108.7 586.6h0M109.9 648.0h0M111.0 652.5h0M112.2 657.0h0M113.4 593.0h0M114.6 555.5h0M115.8 518.0h0M117.0 639.0h0M118.2 614.4h0M119.4 576.0h0M120.6 534.0h0M121.8 507.6h0M123.0 577.0h0M124.2 596.6h0M125.4 662.0h0M126.6 611.6h0M127.8 643.0h0M129.0 652.0h0M130.2 691.7h0M131.4 668.0h0M132.6 646.6h0M133.8 662.0h0M135.0 736.7h0M136.2 721.3h0M137.4 699.0h0M138.6 647.0h0M139.7 692.7h0M140.9 661.0h0M142.1 635.2h0M143.3 609.4h0M144.5 659.6h0M145.7 697.3h0M146.9 636.0h0M148.1 655.3h0M149.3 674.6h0M150.5 688.9h0M151.7 630.0h0M152.9 661.6h0M154.1 616.0h0M155.3 616.0h0M156.5 641.4h0M157.7 552.4h0M158.9 534.0h0M160.1 484.0h0M161.3 393.6h0M162.5 389.0h0M163.7 380.0h0M164.9 352.4h0M166.1 344.0h0M167.3 325.0h0M168.4 397.0h0M169.6 366.0h0M170.8 418.6h0M172.0 387.4h0M173.2 473.6h0M174.4 517.4h0M175.6 538.0h0M176.8 454.0h0M178.0 510.0h0M179.2 502.4h0M180.4 529.4h0M181.6 553.6h0M182.8 612.6h0M184.0 643.0h0M185.2 463.6h0M186.4 456.4h0M187.6 390.6h0M188.8 400.0h0M190.0 359.0h0M191.2 446.0h0M192.4 488.6h0M193.6 377.0h0M194.8 402.0h0M195.9 376.5h0M197.1 351.0h0M198.3 384.0h0M199.5 350.0h0M200.7 316.0h0M201.9 277.6h0M203.1 435.0h0M204.3 384.0h0M205.5 351.6h0M206.7 333.0h0M207.9 243.0h0M209.1 272.0h0M210.3 245.0h0M211.5 267.0h0M212.7 289.0h0M213.9 272.0h0M215.1 181.4h0M216.3 316.0h0M217.5 327.2h0M218.7 338.4h0M219.9 290.0h0M221.1 317.0h0M222.3 344.0h0M223.5 267.0h0M224.6 319.6h0M225.8 378.0h0M227.0 437.4h0M228.2 519.4h0M229.4 524.4h0M230.6 502.0h0M231.8 535.6h0M233.0 523.4h0M234.2 500.6h0M235.4 523.4h0M236.6 565.0h0M237.8 597.4h0M239.0 648.6h0M240.2 623.0h0M241.4 628.0h0M242.6 654.0h0M243.8 635.6h0M245.0 648.6h0M246.2 597.4h0M247.4 612.6h0M248.6 642.0h0M249.8 568.0h0M251.0 533.0h0M252.2 583.0h0M253.3 624.0h0M254.5 588.0h0M255.7 552.0h0M256.9 486.0h0M258.1 523.3h0M259.3 560.6h0M260.5 531.0h0M261.7 534.0h0M262.9 545.7h0M264.1 557.4h0M265.3 515.4h0M266.5 582.0h0M267.7 623.4h0M268.9 598.0h0M270.1 438.4h0M271.3 305.2h0M272.5 395.0h0M273.7 365.4h0M274.9 267.0h0M276.1 251.6h0M277.3 336.6h0M278.5 263.0h0M279.7 224.0h0M280.8 227.4h0M282.0 237.6h0M283.2 350.0h0M284.4 423.4h0M285.6 332.6h0M286.8 301.0h0M288.0 313.6h0M289.2 277.1h0M290.4 240.6h0M291.6 287.0h0M292.8 278.5h0M294.0 270.0h0M295.2 390.6h0M296.4 352.1h0M297.6 313.6h0M298.8 407.0h0M300.0 435.2h0M301.2 346.0h0M302.4 356.7h0M303.6 367.4h0M304.8 314.0h0M306.0 360.0h0M307.2 321.6h0M308.4 354.0h0M309.5 323.6h0M310.7 455.0h0M311.9 430.6h0M313.1 428.0h0M314.3 419.5h0M315.5 411.0h0M316.7 446.4h0M317.9 458.6h0M319.1 433.6h0M320.3 499.4h0M321.5 439.4h0M322.7 524.6h0M323.9 510.1h0M325.1 495.5h0M326.3 481.0h0M327.5 446.0h0M328.7 392.0h0M329.9 405.0h0M331.1 418.0h0M332.3 433.0h0M333.5 235.6h0M334.7 379.4h0M335.9 243.0h0M337.1 343.0h0M338.2 280.0h0M339.4 287.4h0M340.6 291.0h0M341.8 329.6h0M343.0 315.6h0M344.2 330.0h0M345.4 433.6h0M346.6 419.4h0M347.8 394.0h0M349.0 423.0h0M350.2 348.4h0M351.4 397.0h0M352.6 351.0h0M353.8 410.0h0M355.0 393.0h0M356.2 426.2h0M357.4 459.4h0M358.6 412.0h0M359.8 353.0h0M361.0 421.0h0M362.2 471.0h0M363.4 500.6h0M364.6 519.0h0M365.8 505.6h0M366.9 424.0h0M368.1 410.0h0M369.3 404.4h0M370.5 500.0h0M371.7 466.6h0M372.9 494.0h0M374.1 482.7h0M375.3 471.4h0M376.5 502.0h0M377.7 535.0h0M378.9 475.0h0M380.1 498.5h0M381.3 522.0h0M382.5 527.0h0M383.7 502.5h0M384.9 478.0h0M386.1 567.0h0M387.3 568.8h0M388.5 570.6h0M389.7 539.0h0M390.9 543.4h0M392.1 527.6h0M393.3 562.0h0M394.4 582.0h0M395.6 600.5h0M396.8 619.0h0M398.0 549.0h0M399.2 588.0h0M400.4 490.6h0M401.6 611.0h0M402.8 615.0h0M404.0 619.0h0M405.2 608.0h0M406.4 573.3h0M407.6 538.6h0M408.8 673.4h0M410.0 642.4h0M411.2 641.0h0M412.4 587.0h0M413.6 605.0h0M414.8 577.4h0M416.0 554.6h0M417.2 465.6h0M418.4 505.3h0M419.6 545.0h0M420.8 501.6h0M422.0 473.4h0M423.1 449.0h0M424.3 459.0h0M425.5 412.0h0M426.7 474.0h0M427.9 442.4h0M429.1 461.7h0M430.3 481.0h0M431.5 428.0h0M432.7 498.6h0M433.9 441.0h0M435.1 414.0h0M436.3 526.6h0M437.5 540.4h0M438.7 530.9h0M439.9 521.4h0M441.1 422.0h0M442.3 379.4h0M443.5 449.4h0M444.7 392.0h0M445.9 392.4h0M447.1 432.6h0M448.3 501.0h0M449.5 454.0h0M450.7 449.4h0M451.8 372.0h0M453.0 404.0h0M454.2 309.4h0M455.4 360.6h0M456.6 297.4h0M457.8 256.0h0M459.0 214.6h0M460.2 309.0h0M461.4 246.0h0M462.6 323.0h0M463.8 257.0h0M465.0 298.6h0M466.2 362.4h0M467.4 337.2h0M468.6 312.0h0M469.8 354.0h0M471.0 287.4h0M472.2 303.6h0M473.4 328.0h0M474.6 322.0h0M475.8 279.4h0M477.0 240.6h0M478.2 247.4h0M479.3 272.0h0M480.5 266.6h0M481.7 282.6h0M482.9 284.5h0M484.1 286.4h0M485.3 327.4h0M486.5 361.0h0M487.7 319.4h0M488.9 355.0h0M490.1 399.0h0M491.3 325.4h0M492.5 348.6h0M493.7 378.6h0M494.9 389.4h0M496.1 443.6h0M497.3 392.0h0M498.5 442.4h0M499.7 393.0h0M500.9 455.6h0M502.1 405.0h0M503.3 426.0h0M504.5 440.0h0M505.7 454.0h0M506.9 465.6h0M508.0 447.0h0M509.2 448.2h0M510.4 449.4h0M511.6 523.6h0M512.8 483.0h0M514.0 471.4h0M515.2 510.0h0M516.4 526.6h0M517.6 517.4h0M518.8 506.9h0M520.0 496.4h0M521.2 555.0h0M522.4 565.4h0M523.6 546.5h0M524.8 527.6h0M526.0 626.6h0M527.2 582.4h0M528.4 604.5h0M529.6 626.6h0M530.8 622.6h0M532.0 612.0h0M533.2 572.4h0M534.4 533.0h0M535.6 592.4h0M536.7 634.6h0M537.9 617.0h0M539.1 608.0h0M540.3 685.6h0M541.5 561.4h0M542.7 585.4h0M543.9 593.0h0M545.1 542.6h0M546.3 499.6h0M547.5 495.0h0M548.7 476.5h0M549.9 458.0h0M551.1 576.0h0M552.3 539.3h0M553.5 502.6h0M554.7 505.6h0M555.9 508.6h0M557.1 522.0h0M558.3 559.6h0M559.5 606.0h0M560.7 549.0h0M561.9 595.0h0M563.1 577.0h0M564.2 588.5h0M565.4 600.0h0M566.6 549.3h0M567.8 498.6h0M569.0 612.0h0M570.2 498.4h0M571.4 612.6h0M572.6 534.0h0M573.8 584.4h0M575.0 564.8h0M576.2 545.2h0M577.4 525.6h0M578.6 538.4h0M579.8 559.4h0M581.0 629.4h0M582.2 590.4h0M583.4 551.4h0M584.6 642.0h0M585.8 526.4h0M587.0 571.2h0M588.2 616.0h0M589.4 706.6h0M590.6 667.0h0M591.8 642.4h0M592.9 600.0h0M594.1 607.8h0M595.3 615.6h0M596.5 636.0h0M597.7 631.7h0M598.9 627.3h0M600.1 623.0h0M601.3 599.2h0M602.5 575.4h0M603.7 668.4h0M604.9 667.0h0M606.1 602.4h0M607.3 582.4h0M608.5 638.0h0M609.7 680.6h0M610.9 668.0h0M612.1 652.6h0M613.3 651.3h0M614.5 650.0h0M615.7 648.7h0M616.9 647.4h0M618.1 668.0h0M619.3 636.0h0M620.5 617.7h0M621.6 599.4h0M622.8 624.6h0M624.0 514.0h0M625.2 598.0h0M626.4 630.5h0M627.6 663.0h0M628.8 615.6h0M630.0 576.0h0M631.2 648.6h0M632.4 631.4h0M633.6 580.6h0M634.8 527.4h0M636.0 551.4h0M637.2 559.4h0M638.4 567.4h0M639.6 535.0h0M640.8 552.0h0M642.0 529.6h0M643.2 565.4h0M644.4 574.4h0M645.6 642.0h0M646.8 661.0h0M648.0 651.3h0M649.1 641.6h0M650.3 690.4h0M651.5 618.0h0M652.7 624.4h0M653.9 600.0h0M655.1 519.0h0M656.3 435.0h0M657.5 490.0h0M658.7 472.0h0M659.9 506.0h0M661.1 408.0h0M662.3 473.0h0M663.5 525.4h0M664.7 473.0h0M665.9 500.0h0M667.1 505.0h0M668.3 613.0h0M669.5 529.0h0M670.7 509.6h0M671.9 534.0h0M673.1 532.4h0M674.3 572.2h0M675.5 612.0h0M676.7 622.0h0M677.8 670.0h0M679.0 692.0h0M680.2 672.4h0M681.4 684.0h0M682.6 646.0h0M683.8 662.4h0M685.0 628.0h0M686.2 635.5h0M687.4 643.0h0M688.6 650.0h0M689.8 702.0h0M691.0 711.0h0M692.2 707.4h0M693.4 655.0h0M694.6 634.0h0M695.8 652.6h0M697.0 717.0h0M698.2 737.2h0M699.4 757.4h0M700.6 703.4h0M701.8 645.6h0M703.0 720.0h0M704.2 738.0h0M705.4 705.8h0M706.5 673.6h0M707.7 735.6h0M708.9 710.3h0M710.1 685.0h0M711.3 626.6h0M712.5 673.6h0M713.7 726.6h0M714.9 750.8h0M716.1 775.0h0M717.3 707.0h0M718.5 629.4h0M719.7 652.4h0M720.9 595.0h0M722.1 685.0h0M723.3 662.4h0M724.5 740.6h0M725.7 727.0h0M726.9 708.0h0M728.1 726.6h0M729.3 628.4h0M730.5 645.6h0M731.7 711.4h0M732.9 681.4h0M734.0 738.6h0M735.2 690.0h0M736.4 699.3h0M737.6 708.6h0M738.8 668.0h0M740.0 684.4h0M741.2 701.0h0M742.4 655.6h0M743.6 663.0h0M744.8 598.0h0M746.0 574.6h0M747.2 696.0h0M748.4 675.0h0M749.6 693.8h0M750.8 712.6h0M752.0 652.0h0M753.2 683.0h0M754.4 773.0h0M755.6 785.4h0M756.8 734.0h0M758.0 744.0h0M759.2 757.0h0M760.4 823.0h0M761.6 795.4h0M762.7 815.6h0M763.9 747.0h0M765.1 803.0h0M766.3 755.3h0M767.5 707.6h0M768.7 724.0h0M769.9 762.0h0M771.1 803.6h0M772.3 724.0h0M773.5 829.6h0M774.7 812.6h0M775.9 792.0h0M777.1 763.0h0M778.3 792.0h0M779.5 831.4h0M780.7 825.6h0M781.9 838.6h0M783.1 806.6h0M784.3 784.0h0M785.5 804.0h0M786.7 791.5h0M787.9 779.0h0M789.1 797.6h0M790.3 808.0h0M791.4 798.6h0M792.6 745.4h0M793.8 790.0h0M795.0 768.0h0M796.2 746.0h0M797.4 774.6h0M798.6 716.6h0M799.8 748.0h0M801.0 768.0h0M802.2 716.6h0M803.4 745.4h0M804.6 774.2h0M805.8 803.0h0M807.0 791.0h0M808.2 836.0h0M809.4 783.4h0M810.6 820.7h0M811.8 858.0h0M813.0 794.0h0M814.2 785.5h0M815.4 777.0h0M816.6 820.0h0M817.8 758.6h0M818.9 792.6h0M820.1 826.6h0M821.3 764.4h0M822.5 809.0h0M823.7 811.7h0M824.9 814.4h0M826.1 767.4h0M827.3 797.4h0M828.5 733.0h0M829.7 743.6h0M830.9 702.0h0M832.1 677.4h0M833.3 719.0h0M834.5 701.0h0M835.7 709.0h0M836.9 717.0h0M838.1 732.0h0M839.3 747.0h0M840.5 711.0h0M841.7 759.4h0M842.9 733.7h0M844.1 708.0h0M845.3 711.0h0M846.5 714.0h0M847.6 702.4h0M848.8 702.0h0M850.0 673.0h0M851.2 675.6h0M852.4 702.0h0M853.6 713.0h0M854.8 731.0h0M856.0 735.2h0M857.2 739.4h0M858.4 712.4h0M859.6 722.4h0M860.8 780.0h0M862.0 835.4h0M863.2 787.4h0M864.4 770.0h0M865.6 778.0h0M866.8 786.0h0M868.0 797.7h0M869.2 809.4h0M870.4 775.0h0M871.6 755.0h0M872.8 786.0h0M874.0 817.4h0M875.2 781.7h0M876.3 746.0h0M877.5 768.0h0M878.7 806.6h0M879.9 796.3h0M881.1 786.0h0M882.3 773.5h0M883.5 761.0h0M884.7 813.0h0M885.9 750.0h0M887.1 716.0h0M888.3 692.4h0M889.5 650.0h0M890.7 666.7h0M891.9 683.4h0M893.1 667.7h0M894.3 652.0h0M895.5 693.0h0M896.7 680.7h0M897.9 668.4h0M899.1 706.6h0M900.3 702.5h0M901.5 698.4h0M902.7 663.0h0M903.9 601.4h0M905.0 626.6h0M906.2 684.0h0M907.4 648.6h0M908.6 655.8h0M909.8 663.0h0M911.0 680.0h0M912.2 708.0h0M913.4 705.0h0M914.6 640.6h0M915.8 652.4h0M917.0 596.0h0M918.2 689.0h0M919.4 672.0h0M920.6 668.6h0M921.8 579.6h0M923.0 522.4h0M924.2 593.0h0M925.4 541.4h0M926.6 636.0h0M927.8 617.4h0M929.0 564.4h0M930.2 609.4h0M931.4 567.7h0M932.5 526.0h0M933.7 603.6h0M934.9 630.4h0M936.1 642.6h0M937.3 681.4h0M938.5 729.4h0M939.7 742.6h0M940.9 741.0h0M942.1 758.6h0M943.3 747.4h0M944.5 766.0h0M945.7 780.0h0M946.9 764.4h0M948.1 783.5h0M949.3 802.6h0M950.5 786.3h0M951.7 770.0h0M952.9 764.0h0M954.1 781.0h0M955.3 791.0h0M956.5 801.0h0M957.7 828.0h0M958.9 804.0h0M960.1 780.5h0M961.2 757.0h0M962.4 781.0h0M963.6 784.2h0M964.8 787.4h0M966.0 822.0h0M967.2 839.0h0M968.4 793.0h0M969.6 836.0h0M970.8 815.5h0M972.0 795.0h0M973.2 848.0h0M974.4 845.0h0M975.6 842.0h0M976.8 846.5h0M978.0 851.0h0M979.2 826.0h0M980.4 762.6h0M981.6 792.0h0M982.8 762.6h0M984.0 842.6h0M985.2 769.4h0M986.4 793.7h0M987.6 818.0h0M988.8 829.0h0M989.9 840.0h0M991.1 851.0h0M992.3 851.5h0M993.5 852.1h0M994.7 852.6h0M995.9 790.0h0M997.1 765.0h0M998.3 776.0h0M999.5 787.0h0M1000.7 781.7h0M1001.9 776.4h0M1003.1 803.9h0M1004.3 831.4h0M1005.5 802.0h0M1006.7 786.2h0M1007.9 770.4h0M1009.1 860.0h0M1010.3 866.0h0M1011.5 835.0h0M1012.7 779.0h0M1013.9 776.2h0M1015.1 773.4h0M1016.3 770.6h0M1017.4 803.0h0M1018.6 784.8h0M1019.8 766.6h0M1021.0 787.0h0M1022.2 836.6h0M1023.4 754.0h0M1024.6 770.0h0M1025.8 786.0h0M1027.0 846.6h0M1028.2 740.6h0M1029.4 765.0h0M1030.6 777.0h0M1031.8 793.0h0M1033.0 764.8h0M1034.2 736.6h0M1035.4 764.0h0M1036.6 820.6h0M1037.8 760.6h0M1039.0 795.3h0M1040.2 830.0h0M1041.4 823.7h0M1042.6 817.4h0M1043.8 797.0h0M1045.0 773.5h0M1046.1 750.0h0M1047.3 802.0h0M1048.5 778.0h0M1049.7 754.0h0M1050.9 770.0h0M1052.1 736.0h0M1053.3 766.5h0M1054.5 797.0h0M1055.7 833.0h0M1056.9 832.5h0M1058.1 832.0h0M1059.3 815.0h0M1060.5 804.0h0M1061.7 733.4h0M1062.9 789.4h0M1064.1 752.4h0M1065.3 790.5h0M1066.5 828.6h0M1067.7 809.2h0M1068.9 789.8h0M1070.1 770.4h0M1071.3 742.6h0M1072.5 750.6h0M1073.7 793.8h0M1074.8 837.0h0M1076.0 802.0h0M1077.2 835.0h0M1078.4 817.7h0M1079.6 800.3h0M1080.8 783.0h0M1082.0 803.0h0M1083.2 817.7h0M1084.4 832.4h0M1085.6 746.6h0M1086.8 769.4h0M1088.0 786.2h0M1089.2 803.0h0M1090.4 750.6h0M1091.6 791.0h0M1092.8 779.5h0M1094.0 768.0h0M1095.2 785.3h0M1096.4 802.6h0M1097.6 724.0h0M1098.8 750.6h0M1100.0 730.0h0M1101.2 844.0h0M1102.3 777.0h0M1103.5 772.2h0M1104.7 767.4h0M1105.9 762.6h0M1107.1 821.4h0M1108.3 828.6h0M1109.5 798.0h0M1110.7 838.4h0M1111.9 755.0h0M1113.1 784.0h0M1114.3 742.0h0M1115.5 792.0h0M1116.7 802.0h0M1117.9 790.7h0M1119.1 779.3h0M1120.3 768.0h0M1121.5 797.0h0M1122.7 742.6h0M1123.9 724.0h0M1125.1 703.4h0M1126.3 694.6h0M1127.5 762.0h0M1128.7 759.7h0M1129.9 757.4h0M1131.0 786.6h0M1132.2 686.6h0M1133.4 697.0h0M1134.6 648.0h0M1135.8 652.0h0M1137.0 629.4h0M1138.2 674.0h0M1139.4 652.6h0M1140.6 614.0h0M1141.8 652.6h0M1143.0 640.6h0M1144.2 764.4h0M1145.4 738.6h0M1146.6 719.0h0M1147.8 736.0h0M1149.0 701.6h0M1150.2 721.1h0M1151.4 740.6h0M1152.6 751.0h0M1153.8 773.4h0M1155.0 753.0h0M1156.2 743.0h0M1157.4 795.4h0M1158.6 860.6h0M1159.7 773.6h0M1160.9 780.7h0M1162.1 787.9h0M1163.3 795.0h0M1164.5 822.0h0M1165.7 842.0h0M1166.9 842.0h0" stroke="#0000ff" stroke-width="6.8" stroke-linecap="round"/>
</g>
<path d="M96.7 892.0v-11.5M96.7 41.3v11.5M216.3 892.0v-11.5M216.3 41.3v11.5M335.9 892.0v-11.5M335.9 41.3v11.5M455.4 892.0v-11.5M455.4 41.3v11.5M575.0 892.0v-11.5M575.0 41.3v11.5M694.6 892.0v-11.5M694.6 41.3v11.5M814.2 892.0v-11.5M814.2 41.3v11.5M933.7 892.0v-11.5M933.7 41.3v11.5M1053.3 892.0v-11.5M1053.3 41.3v11.5M1172.9 892.0v-11.5M1172.9 41.3v11.5M96.7 892.0h11.5M1172.9 892.0h-11.5M96.7 750.2h11.5M1172.9 750.2h-11.5M96.7 608.4h11.5M1172.9 608.4h-11.5M96.7 466.6h11.5M1172.9 466.6h-11.5M96.7 324.9h11.5M1172.9 324.9h-11.5M96.7 183.1h11.5M1172.9 183.1h-11.5M96.7 41.3h11.5M1172.9 41.3h-11.5" stroke="#262626" stroke-width="1.7" fill="none"/>
<rect x="96.7" y="41.3" width="1076.2" height="850.7" fill="none" stroke="#262626" stroke-width="1.8"/>
<text class="tk" x="94.9" y="938.6" text-anchor="middle">0</text>
<text class="tk" x="215.5" y="938.6" text-anchor="middle">100</text>
<text class="tk" x="335.1" y="938.6" text-anchor="middle">200</text>
<text class="tk" x="454.6" y="938.6" text-anchor="middle">300</text>
<text class="tk" x="574.2" y="938.6" text-anchor="middle">400</text>
<text class="tk" x="693.8" y="938.6" text-anchor="middle">500</text>
<text class="tk" x="813.4" y="938.6" text-anchor="middle">600</text>
<text class="tk" x="932.9" y="938.6" text-anchor="middle">700</text>
<text class="tk" x="1052.5" y="938.6" text-anchor="middle">800</text>
<text class="tk" x="1172.1" y="938.6" text-anchor="middle">900</text>
<text class="tk" x="81.8" y="904.6" text-anchor="end">10</text>
<text class="tk" x="81.8" y="762.8" text-anchor="end">15</text>
<text class="tk" x="81.8" y="621.0" text-anchor="end">20</text>
<text class="tk" x="81.8" y="479.2" text-anchor="end">25</text>
<text class="tk" x="81.8" y="337.5" text-anchor="end">30</text>
<text class="tk" x="81.8" y="195.7" text-anchor="end">35</text>
<text class="tk" x="81.8" y="53.9" text-anchor="end">40</text>
<text x="633.4" y="987.8" text-anchor="middle" font-size="36.3" fill="#262626">Date</text>
<text transform="translate(26.2,466.5) rotate(-90)" text-anchor="middle" font-size="36.3" fill="#262626">VIX</text>
<text x="629.3" y="26" text-anchor="middle" font-size="36.4" font-weight="bold" fill="#000">Forecasted VIX: Case of Autorgressive model (AR(3))</text>
<rect x="814.2" y="67.5" width="332.8" height="90.8" fill="#fff" stroke="#262626" stroke-width="1.8"/>
<path d="M823.8 92.5H923.3" stroke="#ff0000" stroke-width="1.9"/><circle cx="873.5" cy="92.5" r="3.3" fill="#ff0000"/>
<path d="M823.8 133.7H923.3" stroke="#0000ff" stroke-width="1.9"/><circle cx="873.5" cy="133.7" r="3.3" fill="#0000ff"/>
<text class="lg" x="930.3" y="103.5">Actual VIX</text>
<text class="lg" x="930.3" y="144.9">Forecasted VIX</text>
</svg>
</body></html>
